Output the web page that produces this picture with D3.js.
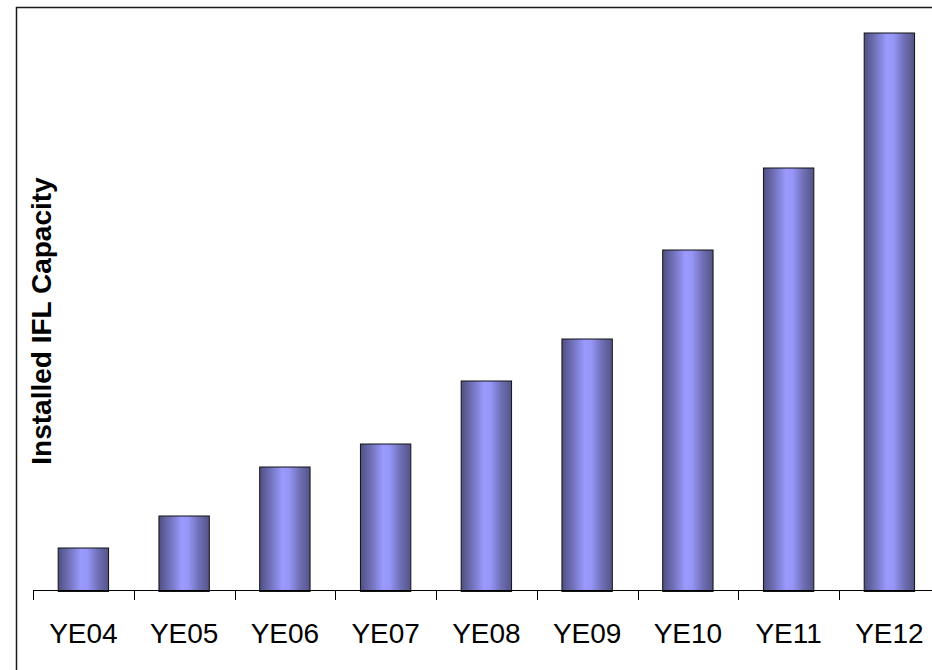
<!DOCTYPE html>
<html>
<head>
<meta charset="utf-8">
<script src="https://cdn.jsdelivr.net/npm/d3@7"></script>
<style>
  body { margin: 0; background: #fff; }
  text { font-family: "Liberation Sans", Arial, sans-serif; }
</style>
</head>
<body>
<div id="chart"></div>
<script>
const width = 932;
const height = 670;

// year-end labels and (unitless) capacity values
const years = ["YE04", "YE05", "YE06", "YE07", "YE08", "YE09", "YE10", "YE11", "YE12"];
const capacity = [42, 74, 123, 146, 209, 251, 340, 422, 557];
const yLabel = "Installed IFL Capacity";

const baseY = 590;
const left = 33;
const step = 100.75;

const svg = d3.select("#chart").append("svg")
    .attr("width", width)
    .attr("height", height);

// gradient for the cylinder-ish look of the bars
const grad = svg.append("defs").append("linearGradient")
    .attr("id", "barGrad")
    .attr("x1", "0%").attr("x2", "100%")
    .attr("y1", "0%").attr("y2", "0%");
grad.append("stop").attr("offset", "0%").attr("stop-color", "#4f4f82");
grad.append("stop").attr("offset", "22%").attr("stop-color", "#7272bb");
grad.append("stop").attr("offset", "45%").attr("stop-color", "#9a9aff");
grad.append("stop").attr("offset", "58%").attr("stop-color", "#9696f8");
grad.append("stop").attr("offset", "80%").attr("stop-color", "#6e6eb4");
grad.append("stop").attr("offset", "100%").attr("stop-color", "#545488");

// outer frame (only left + top visible, rest is off-canvas)
svg.append("rect")
    .attr("x", 16.5).attr("y", 7.5)
    .attr("width", width + 20).attr("height", height + 20)
    .attr("fill", "none")
    .attr("stroke", "#1a1a1a")
    .attr("stroke-width", 1.5);

const x = d3.scaleBand()
    .domain(years)
    .range([left, left + step * years.length])
    .paddingInner(0.5)
    .paddingOuter(0.25);

const y = d3.scaleLinear()
    .domain([0, 590])
    .range([baseY, 0]);

svg.append("g")
    .selectAll("rect")
    .data(years)
    .join("rect")
    .attr("x", d => x(d))
    .attr("y", (d, i) => y(capacity[i]))
    .attr("width", x.bandwidth())
    .attr("height", (d, i) => y(0) - y(capacity[i]) + 1.5)
    .attr("fill", "url(#barGrad)")
    .attr("stroke", "#111")
    .attr("stroke-width", 1);

// x axis: line, ticks between categories, labels centred
const axis = svg.append("g");
axis.append("line")
    .attr("x1", left).attr("x2", width)
    .attr("y1", baseY + 0.5).attr("y2", baseY + 0.5)
    .attr("stroke", "#000");

axis.selectAll(".tick")
    .data(d3.range(years.length + 1))
    .join("line")
    .attr("class", "tick")
    .attr("x1", i => Math.round(left + i * x.step()) + 0.5)
    .attr("x2", i => Math.round(left + i * x.step()) + 0.5)
    .attr("y1", baseY)
    .attr("y2", baseY + 10)
    .attr("stroke", "#000");

axis.selectAll(".lbl")
    .data(years)
    .join("text")
    .attr("class", "lbl")
    .attr("x", d => x(d) + x.bandwidth() / 2)
    .attr("y", 643)
    .attr("text-anchor", "middle")
    .attr("font-size", 28)
    .attr("fill", "#000")
    .text(d => d);

svg.append("text")
    .attr("transform", "translate(51,321) rotate(-90)")
    .attr("text-anchor", "middle")
    .attr("font-size", 28)
    .attr("font-weight", "bold")
    .attr("fill", "#000")
    .text(yLabel);
</script>
</body>
</html>
